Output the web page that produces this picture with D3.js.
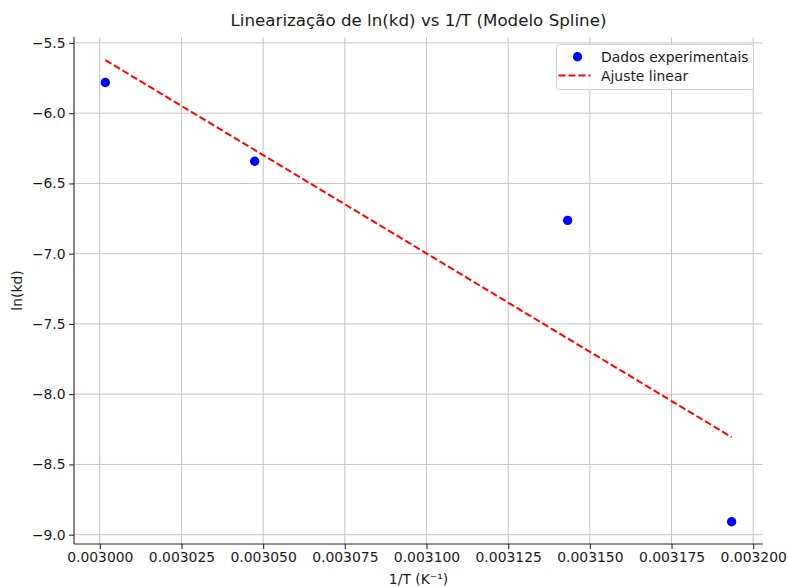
<!DOCTYPE html>
<html>
<head>
<meta charset="utf-8">
<script src="https://cdn.jsdelivr.net/npm/d3@7"></script>
<style>
  html, body { margin: 0; padding: 0; background: #fff; }
  svg { display: block; font-family: "DejaVu Sans", sans-serif; }
</style>
</head>
<body>
<svg id="chart" width="788" height="587"></svg>
<script>
// Experimental points: inverse temperature (1/K) and ln(kd)
const invT = [0.0030017, 0.0030474, 0.0031432, 0.0031934];
const lnKd = [-5.782, -6.342, -6.763, -8.908];

// Linear fit, evaluated at the first and last inverse temperature
const fitX = [0.0030017, 0.0031934];
const fitY = [-5.622, -8.306];

const xTicks = [0.003000, 0.003025, 0.003050, 0.003075, 0.003100, 0.003125, 0.003150, 0.003175, 0.003200];
const yTicks = [-5.5, -6.0, -6.5, -7.0, -7.5, -8.0, -8.5, -9.0];

const titleText = "Linearização de ln(kd) vs 1/T (Modelo Spline)";
const xLabel = "1/T (K⁻¹)";
const yLabel = "ln(kd)";
const legendLabels = ["Dados experimentais", "Ajuste linear"];

const svg = d3.select("#chart");
const plot = { left: 74, right: 763, top: 37, bottom: 544 };

const x = d3.scaleLinear().domain([0.0029921, 0.0032030]).range([plot.left, plot.right]);
const y = d3.scaleLinear().domain([-9.0663, -5.4579]).range([plot.bottom, plot.top]);

const gridColor = "#c4c4c4";
const axisColor = "#262626";
const textColor = "#1a1a1a";
const tickFont = 13.9;

// Grid
svg.append("g").selectAll("line").data(xTicks).join("line")
  .attr("x1", d => x(d)).attr("x2", d => x(d))
  .attr("y1", plot.top).attr("y2", plot.bottom)
  .attr("stroke", gridColor).attr("stroke-width", 1);
svg.append("g").selectAll("line").data(yTicks).join("line")
  .attr("x1", plot.left).attr("x2", plot.right)
  .attr("y1", d => y(d)).attr("y2", d => y(d))
  .attr("stroke", gridColor).attr("stroke-width", 1);

// Axes (left and bottom spines only)
const fmtX = d3.format(".6f");
const fmtY = d => d3.format(".1f")(d).replace("-", "−");

const xAxis = svg.append("g")
  .attr("transform", `translate(0,${plot.bottom})`)
  .call(d3.axisBottom(x).tickValues(xTicks).tickFormat(fmtX).tickSizeOuter(0).tickSize(4.9).tickPadding(3.5));
const yAxis = svg.append("g")
  .attr("transform", `translate(${plot.left},0)`)
  .call(d3.axisLeft(y).tickValues(yTicks).tickFormat(fmtY).tickSizeOuter(0).tickSize(4.9).tickPadding(3.5));

[xAxis, yAxis].forEach(g => {
  g.attr("font-size", null).attr("font-family", null);
  g.select(".domain").attr("stroke", axisColor).attr("stroke-width", 1.1);
  g.selectAll(".tick line").attr("stroke", axisColor).attr("stroke-width", 1.1);
  g.selectAll(".tick text").attr("fill", textColor)
    .style("font-family", "DejaVu Sans, sans-serif").style("font-size", tickFont + "px");
});
// Spines run the full length of the plot edges
xAxis.select(".domain").attr("d", `M${plot.left},0H${plot.right}`);
yAxis.select(".domain").attr("d", `M0,${plot.bottom}V${plot.top}`);

// Fit line
const line = d3.line().x(d => x(d[0])).y(d => y(d[1]));
svg.append("path")
  .datum(fitX.map((v, i) => [v, fitY[i]]))
  .attr("d", line)
  .attr("fill", "none")
  .attr("stroke", "#ff0000")
  .attr("stroke-width", 2)
  .attr("stroke-dasharray", "7,3");

// Data points
svg.append("g").selectAll("circle").data(invT.map((v, i) => [v, lnKd[i]])).join("circle")
  .attr("cx", d => x(d[0])).attr("cy", d => y(d[1]))
  .attr("r", 4.7)
  .attr("fill", "#0000ff");

// Title and axis labels
svg.append("text")
  .attr("x", (plot.left + plot.right) / 2).attr("y", 26)
  .attr("text-anchor", "middle")
  .attr("fill", textColor)
  .style("font-size", "16.7px")
  .text(titleText);

svg.append("text")
  .attr("x", (plot.left + plot.right) / 2).attr("y", 584)
  .attr("text-anchor", "middle")
  .attr("fill", textColor)
  .style("font-size", tickFont + "px")
  .text(xLabel);

svg.append("text")
  .attr("transform", `translate(22,${(plot.top + plot.bottom) / 2}) rotate(-90)`)
  .attr("text-anchor", "middle")
  .attr("fill", textColor)
  .style("font-size", tickFont + "px")
  .text(yLabel);

// Legend
const lg = svg.append("g").attr("transform", "translate(556.5,44.5)");
lg.append("rect")
  .attr("width", 197).attr("height", 45)
  .attr("rx", 3).attr("ry", 3)
  .attr("fill", "#ffffff").attr("fill-opacity", 0.85)
  .attr("stroke", "#d0d0d0").attr("stroke-width", 1);
lg.append("circle").attr("cx", 21).attr("cy", 12.3).attr("r", 4.7).attr("fill", "#0000ff");
lg.append("line")
  .attr("x1", 2).attr("x2", 34).attr("y1", 31).attr("y2", 31)
  .attr("stroke", "#ff0000").attr("stroke-width", 2).attr("stroke-dasharray", "7,3");
lg.selectAll("text.lbl").data(legendLabels).join("text")
  .attr("class", "lbl")
  .attr("x", 44.5).attr("y", (d, i) => 17 + i * 19)
  .attr("fill", textColor)
  .style("font-size", tickFont + "px")
  .text(d => d);
</script>
</body>
</html>
